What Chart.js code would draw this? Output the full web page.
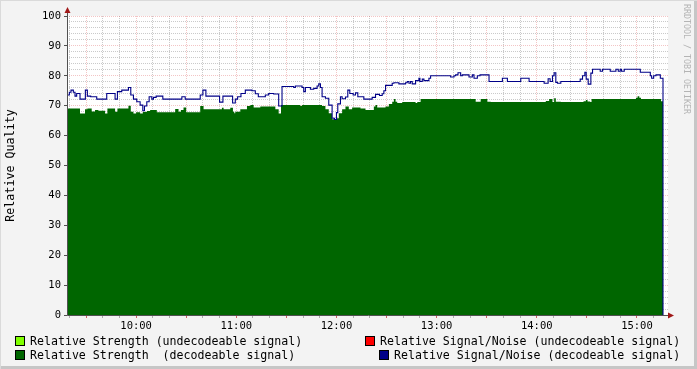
<!DOCTYPE html>
<html>
<head>
<meta charset="utf-8">
<script src="https://cdn.jsdelivr.net/npm/chart.js@4"></script>
<style>
  html, body { margin: 0; padding: 0; background: #f3f3f3; }
  #wrap { position: relative; width: 697px; height: 369px; overflow: hidden; font-family: "DejaVu Sans Mono", monospace; color: #000; }
  #wrap canvas { position: absolute; left: 0; top: 0; }
  .edge { position: absolute; background: #c6c6c6; }
  .sw { position: absolute; width: 8px; height: 8px; border: 1px solid #000; }
  .lg { position: absolute; font-size: 11.6px; line-height: 14px; white-space: pre; }
  #credit { position: absolute; left: 682px; top: 4px; writing-mode: vertical-rl; font-size: 8.3px; line-height: 10px; color: #b4b4b4; white-space: pre; }
</style>
</head>
<body>
<div id="wrap">
  <canvas id="chart" width="697" height="369"></canvas>
  <div class="edge" style="right:0;top:0;width:3px;height:369px"></div>
  <div class="edge" style="left:0;bottom:0;width:697px;height:3px"></div>
  <div class="edge" style="left:0;top:0;width:1px;height:369px;background:#dadada"></div>
  <div class="edge" style="left:0;top:0;width:697px;height:1px;background:#dadada"></div>
  <div id="credit">RRDTOOL / TOBI OETIKER</div>

  <div class="sw" style="left:15px;top:336px;background:#80ff00"></div>
  <div class="lg" style="left:30px;top:334px">Relative Strength (undecodeable signal)</div>
  <div class="sw" style="left:15px;top:350px;background:#006600"></div>
  <div class="lg" style="left:30px;top:348px">Relative Strength  (decodeable signal)</div>
  <div class="sw" style="left:365px;top:336px;background:#ff0000"></div>
  <div class="lg" style="left:380px;top:334px">Relative Signal/Noise (undecodeable signal)</div>
  <div class="sw" style="left:379px;top:350px;background:#000088"></div>
  <div class="lg" style="left:394px;top:348px">Relative Signal/Noise (decodeable signal)</div>
</div>

<script>
// times are minutes after midnight
const X_MIN = 558.6
const X_MAX = 918.6
const TICK_FIRST = 560
const TICK_LAST = 910

// Relative Signal/Noise (decodeable signal)
const snTimes = [
  558.6, 560.0, 561.0, 562.4, 563.4, 564.4, 566.4, 569.6, 570.8, 572.8,
  576.4, 582.4, 587.4, 588.8, 591.4, 595.4, 596.8, 598.4, 600.4, 602.4,
  604.0, 605.0, 606.4, 607.8, 609.4, 610.4, 612.0, 616.0, 627.4, 629.4,
  638.4, 640.0, 641.8, 650.0, 652.0, 657.8, 659.4, 660.8, 662.8, 665.4,
  669.4, 671.4, 673.2, 677.4, 679.4, 682.4, 685.4, 687.4, 694.4, 695.4,
  699.4, 700.4, 701.4, 704.4, 706.4, 708.4, 709.4, 710.4, 711.4, 713.4,
  715.4, 717.4, 718.8, 720.0, 720.8, 722.4, 723.4, 725.4, 726.8, 728.0,
  730.0, 731.4, 732.8, 736.4, 741.4, 743.4, 745.8, 747.4, 748.4, 749.4,
  753.4, 754.4, 757.4, 761.4, 762.4, 763.4, 764.4, 765.4, 767.4, 769.4,
  770.0, 771.4, 772.4, 775.4, 776.4, 788.4, 790.4, 791.4, 792.8, 794.4,
  795.4, 799.4, 801.4, 802.4, 804.4, 806.0, 811.4, 819.4, 822.4, 830.4,
  835.4, 844.4, 846.8, 848.0, 849.4, 850.4, 851.4, 852.4, 854.4, 866.0,
  867.4, 868.8, 869.6, 870.8, 872.4, 873.4, 878.0, 879.4, 884.0, 887.4,
  888.8, 890.0, 890.8, 892.4, 902.0, 908.0, 908.8, 910.0, 911.4, 914.0,
  915.6
]
const snValues = [
  73.6, 74.5, 75.2, 74.5, 73.2, 74.1, 72.2, 75.2, 73.2, 73.0,
  72.2, 74.1, 72.2, 74.7, 75.2, 76.1, 73.6, 72.2, 71.3, 70.2,
  68.3, 69.9, 71.3, 73.0, 72.2, 72.8, 73.2, 72.2, 73.0, 72.2,
  73.6, 75.2, 73.2, 71.2, 73.2, 70.9, 72.2, 73.0, 74.1, 75.2,
  75.0, 74.0, 73.0, 73.6, 74.1, 73.9, 69.9, 76.4, 76.1, 76.6,
  76.1, 74.7, 76.1, 75.5, 75.8, 76.6, 77.3, 76.1, 73.0, 72.5,
  70.2, 65.8, 65.4, 67.7, 70.6, 73.0, 72.3, 72.9, 75.2, 74.1,
  73.6, 74.3, 73.0, 72.2, 72.8, 73.8, 73.4, 74.0, 75.0, 76.8,
  77.5, 77.7, 77.3, 77.7, 78.1, 77.5, 78.1, 77.3, 78.4, 79.2,
  78.1, 78.9, 78.4, 79.2, 80.0, 79.6, 80.0, 80.3, 81.0, 80.0,
  80.3, 79.6, 80.3, 79.2, 80.0, 80.3, 78.1, 79.2, 78.1, 79.2,
  78.1, 77.5, 79.0, 78.1, 80.0, 81.0, 77.8, 77.5, 78.1, 78.9,
  80.0, 81.2, 78.9, 77.2, 80.9, 82.2, 81.5, 82.2, 81.5, 82.2,
  81.5, 82.2, 81.5, 82.2, 81.2, 80.0, 79.2, 80.0, 80.3, 79.2,
  0
]

// Relative Strength (decodeable signal)
const strengthTimes = [
  558.6, 566.4, 569.4, 570.8, 573.4, 575.4, 577.4, 581.4, 582.8, 587.4,
  588.8, 595.4, 596.8, 598.4, 600.0, 602.4, 604.0, 606.4, 608.4, 612.4,
  623.4, 625.4, 626.8, 628.4, 630.0, 638.4, 640.4, 651.4, 652.4, 656.4,
  658.0, 658.8, 659.4, 662.4, 666.4, 668.4, 670.4, 674.4, 683.4, 685.4,
  686.8, 698.4, 699.4, 711.4, 713.4, 715.4, 717.4, 720.0, 721.4, 723.4,
  725.4, 727.4, 729.4, 734.4, 737.4, 742.4, 743.4, 744.4, 749.4, 751.4,
  753.4, 754.4, 755.4, 756.4, 759.4, 767.4, 768.4, 770.4, 803.4, 806.4,
  810.4, 812.4, 845.4, 847.4, 849.4, 850.4, 851.4, 854.4, 868.0, 869.4,
  870.4, 872.0, 872.8, 899.4, 900.4, 901.4, 902.4, 914.4, 915.6
]
const strengthValues = [
  69.1, 67.4, 68.8, 69.1, 68.1, 68.6, 68.3, 67.4, 69.1, 68.0,
  69.1, 70.0, 68.0, 67.4, 67.8, 67.4, 67.9, 68.2, 68.6, 67.8,
  68.9, 68.0, 68.6, 69.4, 67.8, 69.9, 68.8, 69.3, 68.8, 69.3,
  68.0, 67.5, 68.0, 68.8, 69.9, 70.2, 69.4, 69.7, 68.8, 67.4,
  70.2, 69.9, 70.2, 69.9, 68.8, 67.5, 65.5, 65.8, 67.5, 68.8,
  69.7, 68.8, 69.4, 69.1, 68.6, 69.7, 70.2, 69.4, 69.7, 70.6,
  71.3, 72.2, 71.3, 70.9, 71.2, 70.9, 71.2, 72.2, 71.3, 72.2,
  71.3, 71.2, 71.6, 72.2, 71.2, 72.5, 71.3, 71.2, 71.5, 71.9,
  71.4, 71.2, 72.2, 72.7, 73.2, 72.7, 72.2, 71.5, 71.5
]

// undecodeable series have no samples in this window
const weakStrength = []
const weakSn = []

const MINOR = "rgba(150,150,150,0.5)"
const MAJOR = "rgba(220,90,90,0.35)"
const FONT = "DejaVu Sans Mono"

function toPoints(times, values) {
  return times.map((t, i) => ({ x: t, y: values[i] }))
}

function hhmm(v) {
  return `${Math.floor(v / 60)}:${String(v % 60).padStart(2, "0")}`
}

const frame = {
  id: "frame",
  beforeDraw(chart) {
    const { ctx, chartArea: a } = chart
    ctx.save()
    ctx.fillStyle = "#fff"
    ctx.fillRect(a.left, a.top, a.right - a.left, a.bottom - a.top)
    ctx.restore()
  },
  afterDraw(chart) {
    const { ctx, chartArea: a } = chart
    const x0 = a.left + 0.5
    const y0 = a.bottom + 0.5
    ctx.save()
    ctx.strokeStyle = "#505050"
    ctx.lineWidth = 1
    ctx.beginPath()
    ctx.moveTo(x0, y0)
    ctx.lineTo(x0, a.top - 4)
    ctx.moveTo(x0, y0)
    ctx.lineTo(a.right + 1, y0)
    ctx.stroke()
    ctx.fillStyle = "#a01818"
    ctx.beginPath()
    ctx.moveTo(x0, a.top - 9)
    ctx.lineTo(x0 - 3, a.top - 3)
    ctx.lineTo(x0 + 3, a.top - 3)
    ctx.closePath()
    ctx.fill()
    ctx.beginPath()
    ctx.moveTo(a.right + 6, y0)
    ctx.lineTo(a.right, y0 - 3)
    ctx.lineTo(a.right, y0 + 3)
    ctx.closePath()
    ctx.fill()
    ctx.restore()
  }
}

new Chart(document.getElementById("chart"), {
  type: "line",
  data: {
    datasets: [
      {
        label: "Relative Signal/Noise (decodeable signal)",
        data: toPoints(snTimes, snValues),
        borderColor: "#000088",
        borderWidth: 1.1,
        pointRadius: 0,
        fill: false,
        stepped: true,
        order: 0
      },
      {
        label: "Relative Signal/Noise (undecodeable signal)",
        data: weakSn,
        borderColor: "#ff0000",
        pointRadius: 0,
        order: 1
      },
      {
        label: "Relative Strength  (decodeable signal)",
        data: toPoints(strengthTimes, strengthValues),
        borderWidth: 0,
        borderColor: "#006600",
        backgroundColor: "#006600",
        pointRadius: 0,
        fill: "origin",
        stepped: true,
        order: 2
      },
      {
        label: "Relative Strength (undecodeable signal)",
        data: weakStrength,
        borderWidth: 0,
        backgroundColor: "#80ff00",
        pointRadius: 0,
        fill: "origin",
        order: 3
      }
    ]
  },
  options: {
    responsive: false,
    animation: false,
    devicePixelRatio: 1,
    layout: { padding: { left: 0, top: 16, right: 29, bottom: 0 } },
    plugins: { legend: { display: false }, tooltip: { enabled: false } },
    scales: {
      x: {
        type: "linear",
        min: X_MIN,
        max: X_MAX,
        z: 1,
        afterFit: s => { s.height = 54 },
        afterBuildTicks: s => {
          const ticks = []
          for (let v = TICK_FIRST; v <= TICK_LAST; v += 10) ticks.push({ value: v })
          s.ticks = ticks
        },
        ticks: {
          autoSkip: false,
          maxRotation: 0,
          padding: 2,
          color: "#000",
          font: { family: FONT, size: 10.5 },
          callback: v => v % 60 === 0 ? hhmm(v) : ""
        },
        grid: {
          color: c => c.tick && c.tick.value % 30 === 0 ? MAJOR : MINOR,
          tickLength: 3,
          tickColor: c => c.tick && c.tick.value % 30 === 0 ? "rgba(200,60,60,0.8)" : "rgba(140,140,140,0.7)"
        },
        border: { display: false, dash: [1, 1] }
      },
      y: {
        min: 0,
        max: 100,
        z: 1,
        afterFit: s => { s.width = 67 },
        ticks: {
          stepSize: 2,
          autoSkip: false,
          padding: 3,
          color: "#000",
          font: { family: FONT, size: 10.5 },
          callback: v => v % 10 === 0 ? v : ""
        },
        grid: {
          color: c => c.tick && c.tick.value % 10 === 0 ? MAJOR : MINOR,
          tickLength: 3,
          tickColor: c => c.tick && c.tick.value % 10 === 0 ? "#505050" : "rgba(0,0,0,0)"
        },
        border: { display: false, dash: [1, 1] },
        title: {
          display: true,
          text: "Relative Quality",
          color: "#000",
          font: { family: FONT, size: 11.7 },
          padding: { top: 4, bottom: 0 }
        }
      }
    }
  },
  plugins: [frame]
})
</script>
</body>
</html>
